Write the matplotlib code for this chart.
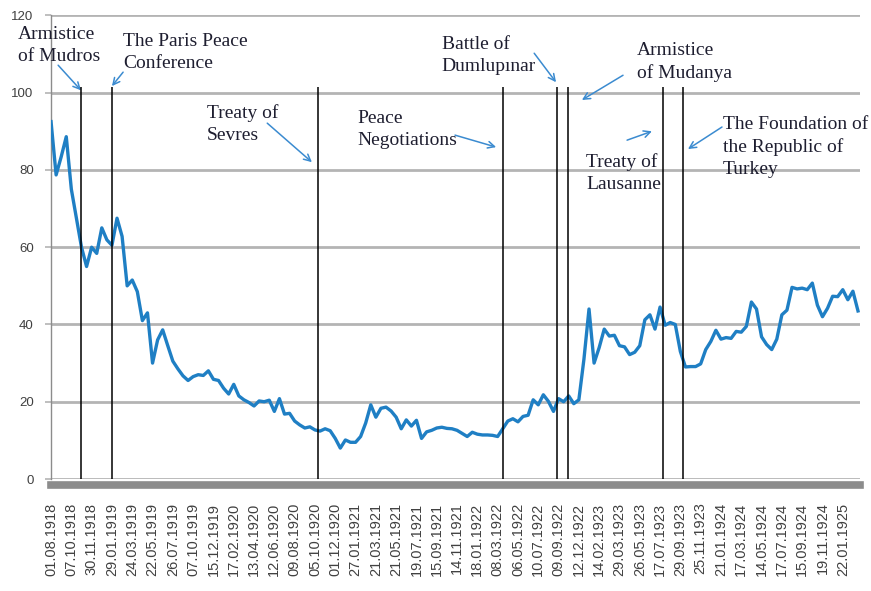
import matplotlib
matplotlib.use('Agg')
import matplotlib.pyplot as plt
import numpy as np

plt.rcParams['font.family'] = ['Liberation Sans', 'DejaVu Sans']

# Series (one value per category)
values = [
    92.5, 78.7, 83.4, 88.6, 75.0, 67.5, 60.0, 55.0, 60.0, 58.4,
    65.0, 61.9, 60.5, 67.5, 62.8, 50.0, 51.5, 48.5, 41.0, 43.0,
    30.0, 36.0, 38.6, 34.5, 30.5, 28.5, 26.7, 25.5, 26.5, 27.0,
    26.8, 28.0, 25.8, 25.5, 23.5, 22.0, 24.5, 21.5, 20.5, 19.8,
    18.9, 20.2, 20.0, 20.4, 17.5, 20.8, 16.8, 17.0, 15.0, 14.0,
    13.2, 13.5, 12.7, 12.4, 13.0, 12.5, 10.5, 8.0, 10.1, 9.5,
    9.5, 11.0, 14.5, 19.2, 16.0, 18.3, 18.6, 17.6, 16.0, 13.0,
    15.3, 13.7, 15.2, 10.5, 12.2, 12.6, 13.2, 13.4, 13.1, 13.0,
    12.6, 11.8, 11.0, 12.1, 11.6, 11.4, 11.4, 11.3, 11.0, 13.0,
    15.0, 15.6, 14.8, 16.2, 16.5, 20.5, 19.2, 21.8, 20.1, 17.5,
    20.8, 20.0, 21.5, 19.5, 20.5, 31.0, 44.0, 30.0, 34.0, 38.8,
    37.0, 37.2, 34.5, 34.2, 32.2, 32.8, 34.5, 41.2, 42.5, 38.8,
    44.5, 39.8, 40.5, 40.0, 33.0, 29.0, 29.1, 29.1, 29.8, 33.5,
    35.6, 38.5, 36.2, 36.6, 36.4, 38.2, 38.0, 39.5, 45.8, 44.0,
    36.8, 34.8, 33.5, 36.2, 42.5, 43.7, 49.6, 49.2, 49.4, 49.0,
    50.7, 45.0, 42.0, 44.2, 47.3, 47.2, 49.0, 46.4, 48.6, 43.5,
]

tick_labels = [
    '01.08.1918', '07.10.1918', '30.11.1918', '29.01.1919', '24.03.1919',
    '22.05.1919', '26.07.1919', '07.10.1919', '15.12.1919', '17.02.1920',
    '13.04.1920', '12.06.1920', '09.08.1920', '05.10.1920', '01.12.1920',
    '27.01.1921', '21.03.1921', '21.05.1921', '19.07.1921', '15.09.1921',
    '14.11.1921', '18.01.1922', '08.03.1922', '06.05.1922', '10.07.1922',
    '09.09.1922', '12.12.1922', '14.02.1923', '29.03.1923', '26.05.1923',
    '17.07.1923', '29.09.1923', '25.11.1923', '21.01.1924', '17.03.1924',
    '14.05.1924', '17.07.1924', '15.09.1924', '19.11.1924', '22.01.1925',
]
TICK_STEP = 4

# Events: category position of the vertical marker
event_pos = [5.85, 11.96, 52.6, 89.1, 99.6, 101.9, 120.6, 124.5]
EVENT_TOP = 101.5

# Annotations: text, text anchor (x, y), arrow tail, arrow head
notes = [
    ('Armistice\nof Mudros', (-6.5, 117.3), (1.4, 107.1), (5.9, 100.6)),
    ('The Paris Peace\nConference', (14.2, 115.5), (14.2, 105.3), (12.0, 101.7)),
    ('Treaty of\nSevres', (30.7, 97.1), (42.6, 92.1), (51.4, 82.0)),
    ('Peace\nNegotiations', (60.3, 95.6), (79.6, 89.0), (87.7, 85.9)),
    ('Battle of\nDumlupınar', (77.0, 114.7), (95.2, 110.2), (99.5, 102.7)),
    ('Armistice\nof Mudanya', (115.5, 113.2), (112.7, 104.5), (104.6, 98.1)),
    ('Treaty of\nLausanne', (105.4, 84.4), (113.5, 87.7), (118.4, 90.0)),
    ('The Foundation of\nthe Republic of\nTurkey', (132.4, 94.0), (132.2, 91.1), (125.5, 85.4)),
]

fig = plt.figure(figsize=(8.71, 5.91), dpi=100)
ax = fig.add_axes([0.0586, 0.1895, 0.9288, 0.7845])

x = np.arange(len(values))
ax.plot(x, values, color='#1f7fc4', lw=2.4, solid_joinstyle='round', zorder=3)

ax.vlines(event_pos, 0, EVENT_TOP, color='black', lw=1.1, zorder=4)

for text, tpos, tail, head in notes:
    ax.text(tpos[0], tpos[1], text, family=['Liberation Serif', 'DejaVu Serif'],
            fontsize=14, color='#1e1e30', va='top', ha='left',
            linespacing=1.4, clip_on=False, zorder=5)
    ax.annotate('', xy=head, xytext=tail, annotation_clip=False,
                arrowprops=dict(arrowstyle='->', color='#3b8bd0', lw=1.1,
                                shrinkA=0, shrinkB=0, mutation_scale=12))

ax.set_xlim(0, 159.4)
ax.set_ylim(0, 120)
ax.set_yticks(range(0, 121, 20))
ax.yaxis.grid(True, color='#b4b4b4', lw=2)
ax.set_axisbelow(True)

ax.set_xticks(np.arange(len(tick_labels)) * TICK_STEP)
ax.set_xticklabels(tick_labels)
ax.tick_params(axis='x', length=0, pad=13, labelrotation=90,
               labelsize=10.5, labelcolor='#404040')
ax.tick_params(axis='y', length=4.5, width=1.2, color='#b4b4b4', pad=8,
               labelsize=9.5, labelcolor='#404040')

for side in ['top', 'right']:
    ax.spines[side].set_visible(False)
ax.spines['left'].set_color('#8c8c8c')
ax.spines['left'].set_linewidth(1)
ax.spines['bottom'].set_color('#8c8c8c')
ax.spines['bottom'].set_linewidth(5.5)
ax.spines['bottom'].set_position(('outward', 4))

fig.savefig('out.png', dpi=100)
